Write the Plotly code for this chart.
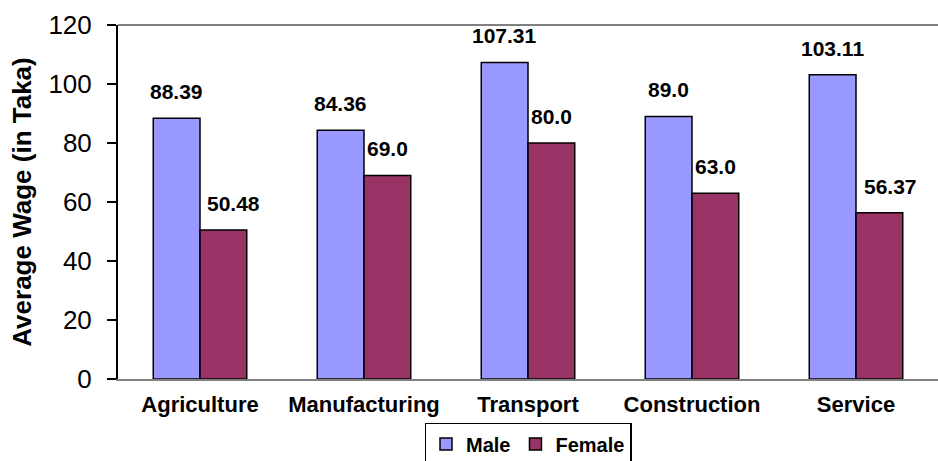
import plotly.graph_objects as go

# Average daily wage by sector and sex
sectors = ["Agriculture", "Manufacturing", "Transport", "Construction", "Service"]
male_wage = [88.39, 84.36, 107.31, 89.0, 103.11]
female_wage = [50.48, 69.0, 80.0, 63.0, 56.37]
male_labels = ["88.39", "84.36", "107.31", "89.0", "103.11"]
female_labels = ["50.48", "69.0", "80.0", "63.0", "56.37"]

FONT = "Arial, 'Liberation Sans', sans-serif"
MALE_COLOR = "#9999FF"
FEMALE_COLOR = "#993366"

fig = go.Figure()
fig.add_trace(go.Bar(
    name="Male", x=sectors, y=male_wage,
    marker=dict(color=MALE_COLOR, line=dict(color="black", width=1.5)),
))
fig.add_trace(go.Bar(
    name="Female", x=sectors, y=female_wage,
    marker=dict(color=FEMALE_COLOR, line=dict(color="black", width=1.5)),
))

# value labels above each bar (left/right half of each group)
bargap = 0.43
half = (1 - bargap) / 4
female_nudge = [10, 0, 0, 0, 11]  # a couple of labels sit slightly right
for i, (m, f) in enumerate(zip(male_wage, female_wage)):
    fig.add_annotation(x=i - half, y=m, text=f"<b>{male_labels[i]}</b>",
                       showarrow=False, yanchor="bottom", yshift=13,
                       font=dict(family=FONT, size=21, color="black"))
    fig.add_annotation(x=i + half, y=f, text=f"<b>{female_labels[i]}</b>",
                       showarrow=False, yanchor="bottom", yshift=13,
                       xshift=female_nudge[i],
                       font=dict(family=FONT, size=21, color="black"))

# top border of the plot area (no right-hand frame line)
fig.add_shape(type="line", xref="paper", yref="paper", x0=0, x1=1, y0=1, y1=1,
              line=dict(color="#808080", width=2), layer="below")

fig.update_layout(
    width=938, height=461,
    margin=dict(l=118, r=0, t=25, b=82, autoexpand=False),
    paper_bgcolor="white", plot_bgcolor="white",
    barmode="group", bargap=bargap, bargroupgap=0,
    font=dict(family=FONT, color="black"),
    showlegend=True,
    legend=dict(
        orientation="h", x=0.5, xanchor="center", y=-0.124, yanchor="top",
        bordercolor="black", borderwidth=1.5, bgcolor="white",
        font=dict(family=FONT, size=20, color="black", weight="bold"),
        itemwidth=30, tracegroupgap=0,
    ),
    xaxis=dict(
        showgrid=False, zeroline=False,
        showline=True, linecolor="#808080", linewidth=2,
        ticks="", ticklabelstandoff=5,
        tickfont=dict(family=FONT, size=22, color="black", weight="bold"),
    ),
    yaxis=dict(
        range=[0, 120], dtick=20, tick0=0,
        showgrid=False, zeroline=False,
        showline=True, linecolor="black", linewidth=2,
        ticks="outside", ticklen=9, tickwidth=1.5, tickcolor="black",
        ticklabelstandoff=10,
        tickfont=dict(family=FONT, size=26, color="black"),
        title=dict(text="<b>Average Wage (in Taka)</b>", standoff=9,
                   font=dict(family=FONT, size=26, color="black")),
    ),
)

fig.write_html("out.html")
